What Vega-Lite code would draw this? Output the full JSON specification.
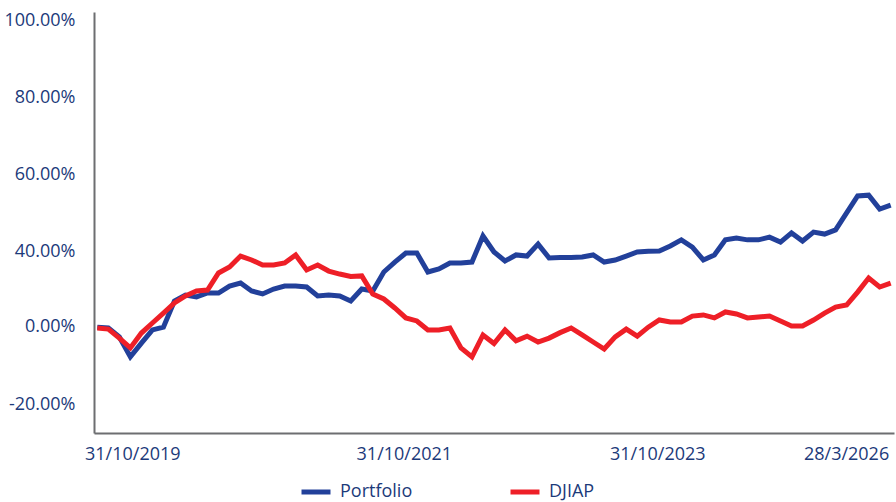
{
  "$schema": "https://vega.github.io/schema/vega-lite/v6.json",
  "width": 800,
  "height": 421,
  "autosize": {"type": "none"},
  "padding": {"left": 94, "top": 12, "right": 2, "bottom": 69},
  "config": {"view": {"stroke": null}, "font": "Open Sans"},
  "data": {"values": [
    {"date": "31/10/2019", "Portfolio": -0.003, "DJIAP": -0.005},
    {"date": "30/11/2019", "Portfolio": -0.005, "DJIAP": -0.008},
    {"date": "31/12/2019", "Portfolio": -0.028, "DJIAP": -0.031},
    {"date": "31/1/2020", "Portfolio": -0.079, "DJIAP": -0.056},
    {"date": "29/2/2020", "Portfolio": -0.044, "DJIAP": -0.018},
    {"date": "15/3/2020", "Portfolio": -0.010, "DJIAP": 0.016},
    {"date": "31/3/2020", "Portfolio": -0.003, "DJIAP": 0.069},
    {"date": "30/4/2020", "Portfolio": 0.133, "DJIAP": 0.123},
    {"date": "31/5/2020", "Portfolio": 0.165, "DJIAP": 0.160},
    {"date": "30/6/2020", "Portfolio": 0.155, "DJIAP": 0.187},
    {"date": "31/7/2020", "Portfolio": 0.176, "DJIAP": 0.192},
    {"date": "31/8/2020", "Portfolio": 0.176, "DJIAP": 0.283},
    {"date": "15/9/2020", "Portfolio": 0.213, "DJIAP": 0.315},
    {"date": "30/9/2020", "Portfolio": 0.229, "DJIAP": 0.373},
    {"date": "31/10/2020", "Portfolio": 0.187, "DJIAP": 0.352},
    {"date": "30/11/2020", "Portfolio": 0.171, "DJIAP": 0.325},
    {"date": "31/12/2020", "Portfolio": 0.197, "DJIAP": 0.325},
    {"date": "31/1/2021", "Portfolio": 0.213, "DJIAP": 0.336},
    {"date": "28/2/2021", "Portfolio": 0.213, "DJIAP": 0.379},
    {"date": "15/3/2021", "Portfolio": 0.208, "DJIAP": 0.299},
    {"date": "31/3/2021", "Portfolio": 0.160, "DJIAP": 0.325},
    {"date": "30/4/2021", "Portfolio": 0.165, "DJIAP": 0.293},
    {"date": "31/5/2021", "Portfolio": 0.160, "DJIAP": 0.277},
    {"date": "30/6/2021", "Portfolio": 0.133, "DJIAP": 0.264},
    {"date": "31/7/2021", "Portfolio": 0.197, "DJIAP": 0.267},
    {"date": "31/8/2021", "Portfolio": 0.187, "DJIAP": 0.171},
    {"date": "15/9/2021", "Portfolio": 0.288, "DJIAP": 0.144},
    {"date": "30/9/2021", "Portfolio": 0.341, "DJIAP": 0.096},
    {"date": "31/10/2021", "Portfolio": 0.389, "DJIAP": 0.043},
    {"date": "30/11/2021", "Portfolio": 0.389, "DJIAP": 0.027},
    {"date": "31/12/2021", "Portfolio": 0.288, "DJIAP": -0.010},
    {"date": "31/1/2022", "Portfolio": 0.304, "DJIAP": -0.010},
    {"date": "28/2/2022", "Portfolio": 0.336, "DJIAP": -0.005},
    {"date": "31/3/2022", "Portfolio": 0.336, "DJIAP": -0.056},
    {"date": "30/4/2022", "Portfolio": 0.341, "DJIAP": -0.079},
    {"date": "31/5/2022", "Portfolio": 0.439, "DJIAP": -0.023},
    {"date": "30/6/2022", "Portfolio": 0.395, "DJIAP": -0.045},
    {"date": "31/7/2022", "Portfolio": 0.347, "DJIAP": -0.010},
    {"date": "31/8/2022", "Portfolio": 0.379, "DJIAP": -0.038},
    {"date": "30/9/2022", "Portfolio": 0.373, "DJIAP": -0.026},
    {"date": "31/10/2022", "Portfolio": 0.418, "DJIAP": -0.041},
    {"date": "30/11/2022", "Portfolio": 0.363, "DJIAP": -0.031},
    {"date": "31/12/2022", "Portfolio": 0.365, "DJIAP": -0.017},
    {"date": "31/1/2023", "Portfolio": 0.365, "DJIAP": -0.005},
    {"date": "28/2/2023", "Portfolio": 0.368, "DJIAP": -0.023},
    {"date": "31/3/2023", "Portfolio": 0.379, "DJIAP": -0.041},
    {"date": "30/4/2023", "Portfolio": 0.341, "DJIAP": -0.059},
    {"date": "31/5/2023", "Portfolio": 0.352, "DJIAP": -0.028},
    {"date": "30/6/2023", "Portfolio": 0.373, "DJIAP": -0.008},
    {"date": "31/7/2023", "Portfolio": 0.395, "DJIAP": -0.026},
    {"date": "31/8/2023", "Portfolio": 0.399, "DJIAP": -0.003},
    {"date": "31/10/2023", "Portfolio": 0.400, "DJIAP": 0.032},
    {"date": "15/12/2023", "Portfolio": 0.413, "DJIAP": 0.021},
    {"date": "31/1/2024", "Portfolio": 0.429, "DJIAP": 0.021},
    {"date": "15/3/2024", "Portfolio": 0.410, "DJIAP": 0.053},
    {"date": "30/4/2024", "Portfolio": 0.352, "DJIAP": 0.059},
    {"date": "15/6/2024", "Portfolio": 0.379, "DJIAP": 0.043},
    {"date": "31/7/2024", "Portfolio": 0.429, "DJIAP": 0.075},
    {"date": "15/9/2024", "Portfolio": 0.434, "DJIAP": 0.064},
    {"date": "31/10/2024", "Portfolio": 0.429, "DJIAP": 0.043},
    {"date": "15/12/2024", "Portfolio": 0.429, "DJIAP": 0.048},
    {"date": "31/1/2025", "Portfolio": 0.436, "DJIAP": 0.053},
    {"date": "15/3/2025", "Portfolio": 0.423, "DJIAP": 0.027},
    {"date": "30/4/2025", "Portfolio": 0.447, "DJIAP": 0.000},
    {"date": "15/6/2025", "Portfolio": 0.426, "DJIAP": 0.000},
    {"date": "31/7/2025", "Portfolio": 0.449, "DJIAP": 0.032},
    {"date": "15/9/2025", "Portfolio": 0.444, "DJIAP": 0.069},
    {"date": "31/10/2025", "Portfolio": 0.455, "DJIAP": 0.101},
    {"date": "30/11/2025", "Portfolio": 0.499, "DJIAP": 0.112},
    {"date": "31/12/2025", "Portfolio": 0.543, "DJIAP": 0.181},
    {"date": "31/1/2026", "Portfolio": 0.545, "DJIAP": 0.256},
    {"date": "28/2/2026", "Portfolio": 0.509, "DJIAP": 0.208},
    {"date": "28/3/2026", "Portfolio": 0.519, "DJIAP": 0.229}
  ]},
  "transform": [{"fold": ["Portfolio", "DJIAP"], "as": ["series", "value"]}],
  "encoding": {
    "x": {
      "field": "date",
      "type": "ordinal",
      "sort": null,
      "scale": {"type": "point", "padding": 0.3},
      "axis": {
        "title": null,
        "values": ["31/10/2019", "31/10/2021", "31/10/2023", "28/3/2026"],
        "labelAngle": 0,
        "ticks": false,
        "tickSize": 0,
        "grid": false,
        "domainColor": "#6d6e71",
        "domainWidth": 2,
        "labelFont": "Open Sans",
        "labelFontSize": 18,
        "labelColor": "#1c3a7a",
        "labelPadding": 12,
        "labelOverlap": false,
        "labelOffset": {"condition": {"test": "datum.value === '31/10/2019'", "value": 35}, "value": -2},
        "labelAlign": {"condition": {"test": "datum.value === '28/3/2026'", "value": "right"}, "value": "center"}
      }
    },
    "y": {
      "field": "value",
      "type": "quantitative",
      "scale": {"domain": [-0.274, 0, 0.4, 1.021], "range": [421, 314, 239, 0], "nice": false, "zero": false},
      "axis": {
        "title": null,
        "values": [-0.2, 0, 0.4, 0.6, 0.8, 1],
        "labelExpr": "replace(format(datum.value, '.2%'), '\u2212', '-')",
        "ticks": false,
        "tickSize": 0,
        "grid": false,
        "domainColor": "#6d6e71",
        "domainWidth": 2,
        "labelFont": "Open Sans",
        "labelFontSize": 18,
        "labelColor": "#1c3a7a",
        "labelPadding": 19,
        "labelOverlap": false
      }
    },
    "color": {
      "field": "series",
      "type": "nominal",
      "scale": {"domain": ["Portfolio", "DJIAP"], "range": ["#22409a", "#ee1f27"]},
      "legend": {
        "orient": "none",
        "legendX": 205,
        "legendY": 463,
        "direction": "horizontal",
        "title": null,
        "padding": 0,
        "symbolType": "stroke",
        "symbolSize": 841,
        "symbolStrokeWidth": 5,
        "labelFont": "Open Sans",
        "labelFontSize": 18,
        "labelColor": "#1c3a7a",
        "labelOffset": 7,
        "columnPadding": 87
      }
    }
  },
  "layer": [
    {"transform": [{"filter": "datum.series === 'Portfolio'"}], "mark": {"type": "line", "strokeWidth": 5}},
    {"transform": [{"filter": "datum.series === 'DJIAP'"}], "mark": {"type": "line", "strokeWidth": 5}}
  ]
}
